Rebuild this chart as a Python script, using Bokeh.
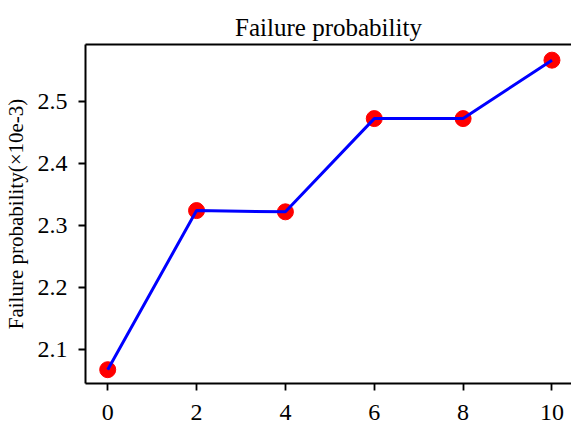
from bokeh.plotting import figure
from bokeh.models import LinearAxis, FixedTicker, Range1d
from bokeh.embed import file_html
from bokeh.resources import INLINE

# Data
steps = [0, 2, 4, 6, 8, 10]
failure_prob = [2.068, 2.324, 2.322, 2.472, 2.472, 2.566]
x_ticks = [0, 2, 4, 6, 8, 10]
y_ticks = [2.1, 2.2, 2.3, 2.4, 2.5]

FONT = "Liberation Serif"

p = figure(width=571, height=423, output_backend="svg", toolbar_location=None,
           x_range=Range1d(-0.5, 10.44), y_range=Range1d(2.0458, 2.5912),
           min_border_left=84, min_border_right=0, min_border_top=44, min_border_bottom=40,
           x_axis_location=None, y_axis_location=None)

p.title.text = "Failure probability"
p.title.text_font = FONT
p.title.text_font_size = "25px"
p.title.text_font_style = "normal"
p.title.text_color = "black"
p.title.align = "center"
p.title.standoff = 8

p.outline_line_color = None
p.xgrid.visible = False
p.ygrid.visible = False

def style_axis(ax):
    ax.axis_line_width = 2
    ax.axis_line_color = "black"
    ax.major_tick_line_width = 1.8
    ax.major_tick_line_color = "black"
    ax.major_tick_out = 7
    ax.major_tick_in = 0
    ax.minor_tick_line_color = None
    ax.major_label_text_font = FONT
    ax.major_label_text_font_size = "24px"
    ax.major_label_text_color = "black"

xaxis = LinearAxis(ticker=FixedTicker(ticks=x_ticks))
style_axis(xaxis)
xaxis.major_label_standoff = 14
p.add_layout(xaxis, "below")

yaxis = LinearAxis(ticker=FixedTicker(ticks=y_ticks))
style_axis(yaxis)
yaxis.major_label_standoff = 11
yaxis.axis_label = "Failure probability(×10e-3)"
yaxis.axis_label_text_font = FONT
yaxis.axis_label_text_font_size = "21px"
yaxis.axis_label_text_font_style = "normal"
yaxis.axis_label_text_color = "black"
yaxis.axis_label_standoff = 7
p.add_layout(yaxis, "left")

top = LinearAxis(ticker=FixedTicker(ticks=[]))
top.axis_line_width = 2
top.axis_line_color = "black"
top.major_tick_line_color = None
top.minor_tick_line_color = None
top.major_label_text_font_size = "0px"
p.add_layout(top, "above")

p.scatter(steps, failure_prob, size=16, color="red", line_color="red")
p.line(steps, failure_prob, line_color="blue", line_width=3)

open("out.html", "w").write(file_html(p, INLINE))
